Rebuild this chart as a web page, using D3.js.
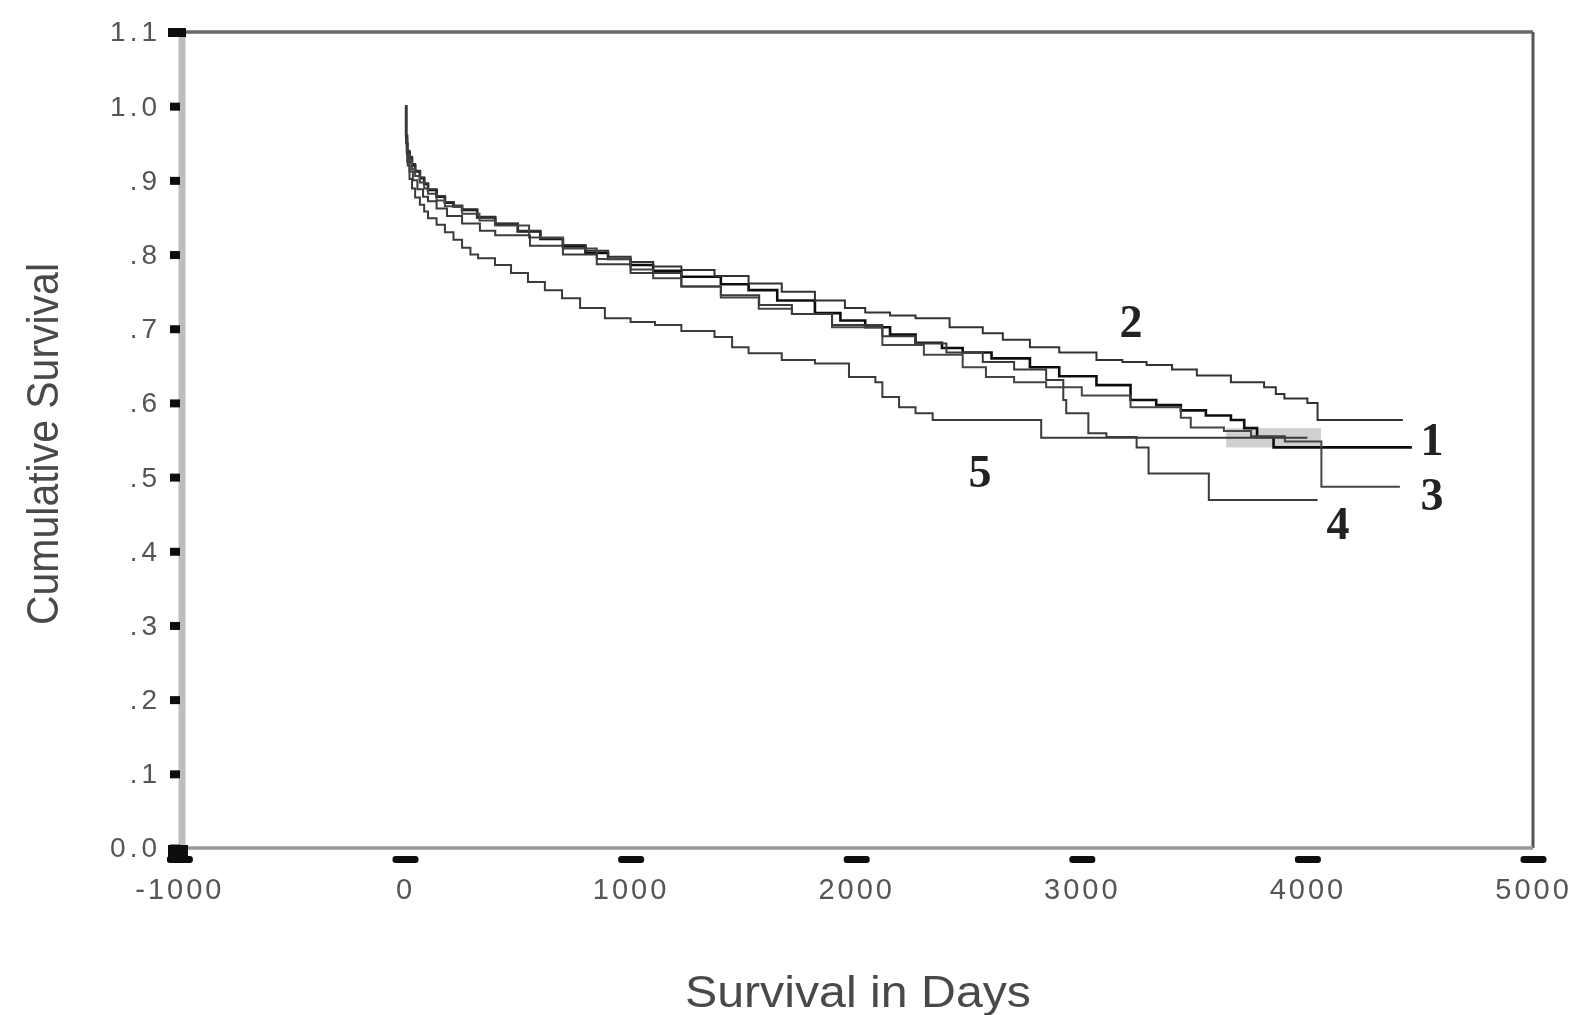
<!DOCTYPE html>
<html>
<head>
<meta charset="utf-8">
<script src="https://cdn.jsdelivr.net/npm/d3@7"></script>
<style>
  body { margin: 0; background: #fff; }
  svg { display: block; }
</style>
</head>
<body>
<svg id="chart" width="1581" height="1015"></svg>
<script>
// survival data (days, cumulative survival)
let days1 = [0, 5, 9, 20, 31, 45, 66, 85, 102, 140, 177, 215, 253, 320, 400, 500, 600, 700, 800, 900, 1000, 1100, 1225, 1400, 1523, 1650, 1817, 1930, 2040, 2150, 2263, 2380, 2472, 2600, 2770, 2900, 3065, 3216, 3330, 3439, 3550, 3661, 3720, 3777, 3850, 4463]
let surv1 = [1.0, 0.96, 0.938, 0.93, 0.92, 0.912, 0.903, 0.895, 0.887, 0.878, 0.87, 0.865, 0.86, 0.85, 0.841, 0.831, 0.821, 0.811, 0.802, 0.794, 0.786, 0.778, 0.77, 0.76, 0.752, 0.738, 0.721, 0.711, 0.702, 0.692, 0.681, 0.674, 0.668, 0.66, 0.648, 0.636, 0.624, 0.604, 0.597, 0.59, 0.583, 0.577, 0.566, 0.554, 0.54, 0.54]

let days2 = [0, 5, 9, 20, 31, 45, 66, 85, 102, 140, 177, 215, 253, 320, 400, 500, 600, 700, 800, 900, 1000, 1100, 1225, 1372, 1523, 1670, 1817, 1950, 2040, 2150, 2263, 2414, 2561, 2650, 2770, 2900, 3065, 3180, 3287, 3400, 3510, 3661, 3808, 3860, 3898, 4000, 4045, 4423]
let surv2 = [1.0, 0.96, 0.94, 0.932, 0.922, 0.913, 0.904, 0.896, 0.888, 0.879, 0.871, 0.866, 0.861, 0.851, 0.842, 0.832, 0.822, 0.813, 0.805, 0.797, 0.79, 0.784, 0.779, 0.771, 0.761, 0.75, 0.738, 0.728, 0.722, 0.718, 0.714, 0.702, 0.694, 0.685, 0.675, 0.668, 0.658, 0.655, 0.651, 0.645, 0.637, 0.628, 0.621, 0.612, 0.606, 0.6, 0.577, 0.577]

let days3 = [0, 5, 10, 20, 31, 45, 66, 85, 102, 140, 177, 253, 330, 400, 550, 700, 850, 1000, 1100, 1225, 1400, 1568, 1715, 1893, 2116, 2300, 2472, 2575, 2700, 2842, 3000, 3216, 3439, 3483, 3630, 3750, 3900, 4062, 4410]
let surv3 = [1.0, 0.955, 0.935, 0.925, 0.915, 0.906, 0.897, 0.889, 0.882, 0.873, 0.865, 0.855, 0.846, 0.839, 0.823, 0.808, 0.794, 0.78, 0.768, 0.757, 0.742, 0.727, 0.72, 0.702, 0.678, 0.665, 0.648, 0.635, 0.628, 0.621, 0.61, 0.594, 0.58, 0.567, 0.562, 0.555, 0.548, 0.487, 0.487]

let days4 = [0, 5, 10, 20, 35, 55, 80, 102, 140, 186, 253, 332, 400, 554, 700, 850, 1000, 1225, 1400, 1570, 1715, 1893, 2116, 2263, 2400, 2561, 2700, 2842, 2918, 2931, 3029, 3109, 3243, 3296, 3563, 4045]
let surv4 = [1.0, 0.95, 0.925, 0.912, 0.9, 0.888, 0.878, 0.872, 0.862, 0.852, 0.842, 0.832, 0.826, 0.812, 0.8, 0.787, 0.775, 0.757, 0.745, 0.732, 0.72, 0.705, 0.69, 0.68, 0.668, 0.655, 0.645, 0.631, 0.604, 0.586, 0.559, 0.554, 0.54, 0.505, 0.469, 0.469]

let days5 = [0, 5, 12, 20, 31, 45, 66, 85, 102, 140, 177, 215, 253, 290, 324, 399, 470, 545, 620, 696, 776, 886, 1000, 1108, 1225, 1372, 1450, 1523, 1670, 1817, 1968, 2085, 2116, 2190, 2263, 2339, 2820, 4000]
let surv5 = [1.0, 0.95, 0.92, 0.902, 0.889, 0.877, 0.867, 0.858, 0.849, 0.84, 0.83, 0.82, 0.809, 0.8, 0.795, 0.786, 0.775, 0.763, 0.752, 0.741, 0.728, 0.714, 0.709, 0.705, 0.697, 0.689, 0.675, 0.667, 0.658, 0.653, 0.635, 0.628, 0.608, 0.594, 0.586, 0.577, 0.553, 0.553]

let groupNames = ["1", "2", "3", "4", "5"]
let labelDays = [4552, 3218, 4552, 4136, 2549]
let labelSurv = [0.551, 0.71, 0.477, 0.437, 0.508]

let xTicks = [-1000, 0, 1000, 2000, 3000, 4000, 5000]
let yTicks = [0, 0.1, 0.2, 0.3, 0.4, 0.5, 0.6, 0.7, 0.8, 0.9, 1.0, 1.1]
let yTickLabels = ["0.0", ".1", ".2", ".3", ".4", ".5", ".6", ".7", ".8", ".9", "1.0", "1.1"]

// overlapping region near the end that shows as a grey patch
let shadeDays = [3640, 4060]
let shadeSurv = [0.54, 0.566]

let svg = d3.select("#chart")
const margin = { left: 182, right: 1533, top: 32, bottom: 848 }

let xScale = d3.scaleLinear().domain([-1000, 5000]).range([179.4, 1533])
let yScale = d3.scaleLinear().domain([0, 1.1]).range([margin.bottom, margin.top])

let defs = svg.append("defs")
defs.append("filter").attr("id", "soft")
    .append("feGaussianBlur").attr("stdDeviation", 0.7)

let g = svg.append("g").attr("filter", "url(#soft)")

// frame
g.append("line").attr("x1", margin.left).attr("x2", margin.left).attr("y1", margin.top).attr("y2", margin.bottom)
    .attr("stroke", "#bdbdbd").attr("stroke-width", 7)
g.append("line").attr("x1", 170).attr("x2", margin.right).attr("y1", margin.top).attr("y2", margin.top)
    .attr("stroke", "#6a6a6a").attr("stroke-width", 3.5)
g.append("line").attr("x1", margin.right).attr("x2", margin.right).attr("y1", margin.top).attr("y2", margin.bottom)
    .attr("stroke", "#555").attr("stroke-width", 3)
g.append("line").attr("x1", margin.left).attr("x2", margin.right).attr("y1", margin.bottom).attr("y2", margin.bottom)
    .attr("stroke", "#9a9a9a").attr("stroke-width", 3.5)

// shaded overlap
g.append("rect")
    .attr("x", xScale(shadeDays[0]))
    .attr("y", yScale(shadeSurv[1]))
    .attr("width", xScale(shadeDays[1]) - xScale(shadeDays[0]))
    .attr("height", yScale(shadeSurv[0]) - yScale(shadeSurv[1]))
    .attr("fill", "#d0d0d0")

// y axis
let yAxis = d3.axisLeft(yScale).tickValues(yTicks).tickSize(0).tickPadding(21)
    .tickFormat((d, i) => yTickLabels[i])
let ya = g.append("g").attr("transform", `translate(${margin.left},0)`).call(yAxis)
ya.select(".domain").remove()
ya.selectAll("text").attr("font-family", "Liberation Sans, Arial, sans-serif")
    .attr("font-size", 28).attr("fill", "#555").attr("letter-spacing", 4)
ya.selectAll(".tick").append("rect")
    .attr("x", -12).attr("y", -4).attr("width", 10).attr("height", 8).attr("fill", "#111")

// x axis
let xAxis = d3.axisBottom(xScale).tickValues(xTicks).tickSize(0).tickPadding(30)
    .tickFormat(d => String(d))
let xa = g.append("g").attr("transform", `translate(0,${margin.bottom})`).call(xAxis)
xa.select(".domain").remove()
xa.selectAll("text").attr("font-family", "Liberation Sans, Arial, sans-serif")
    .attr("font-size", 29).attr("fill", "#555").attr("letter-spacing", 3)
xa.selectAll(".tick").append("rect")
    .attr("x", -13).attr("y", 8).attr("width", 26).attr("height", 7).attr("rx", 3).attr("fill", "#111")

// corner blobs
g.append("rect").attr("x", 168).attr("y", 845).attr("width", 20).attr("height", 14).attr("fill", "#111")
g.append("rect").attr("x", 168).attr("y", 28).attr("width", 18).attr("height", 9).attr("fill", "#111")

// survival curves
let line = d3.line()
    .x(d => xScale(d[0]))
    .y(d => yScale(d[1]))
    .curve(d3.curveStepAfter)

let series = [
    {days: days1, surv: surv1, color: "#111", width: 2.6},
    {days: days2, surv: surv2, color: "#333", width: 2},
    {days: days3, surv: surv3, color: "#444", width: 2},
    {days: days4, surv: surv4, color: "#3a3a3a", width: 2},
    {days: days5, surv: surv5, color: "#3a3a3a", width: 2}
]

g.selectAll("path.km")
    .data(series)
    .enter()
    .append("path")
    .attr("class", "km")
    .attr("d", s => line(s.days.map((t, i) => [t, s.surv[i]])))
    .attr("fill", "none")
    .attr("stroke", s => s.color)
    .attr("stroke-width", s => s.width)

// group labels
g.selectAll("text.grp")
    .data(groupNames)
    .enter()
    .append("text")
    .attr("class", "grp")
    .attr("x", (d, i) => xScale(labelDays[i]))
    .attr("y", (d, i) => yScale(labelSurv[i]))
    .attr("text-anchor", "middle")
    .attr("dominant-baseline", "central")
    .attr("font-family", "Liberation Serif, Times New Roman, serif")
    .attr("font-weight", "bold")
    .attr("font-size", 46)
    .attr("fill", "#222")
    .text(d => d)

// axis titles
g.append("text")
    .attr("x", 858).attr("y", 1007)
    .attr("text-anchor", "middle")
    .attr("font-family", "Liberation Sans, Arial, sans-serif")
    .attr("font-size", 44)
    .attr("fill", "#4a4a4a")
    .attr("textLength", 346).attr("lengthAdjust", "spacingAndGlyphs")
    .text("Survival in Days")

g.append("text")
    .attr("transform", "translate(58,444) rotate(-90)")
    .attr("text-anchor", "middle")
    .attr("font-family", "Liberation Sans, Arial, sans-serif")
    .attr("font-size", 44)
    .attr("fill", "#4a4a4a")
    .attr("textLength", 362).attr("lengthAdjust", "spacingAndGlyphs")
    .text("Cumulative Survival")
</script>
</body>
</html>
